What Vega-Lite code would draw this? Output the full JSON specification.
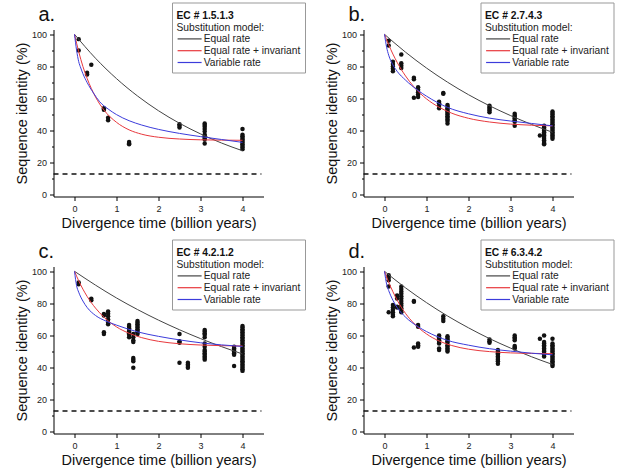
{
  "$schema": "https://vega.github.io/schema/vega-lite/v6.json",
  "padding": {"left": 13.5, "top": 1.5, "right": 0, "bottom": 0},
  "config": {
    "font": "Liberation Sans",
    "view": {"stroke": null},
    "axis": {"grid": false, "domainColor": "#000", "tickColor": "#000", "labelColor": "#222", "labelFontSize": 9, "titleFontSize": 14.5, "titleFontWeight": "normal", "titleColor": "#111"},
    "legend": {"labelFontSize": 10.2, "titleFontSize": 10.3, "labelColor": "#222", "titleColor": "#222"}
  },
  "datasets": {
    "dash": [{"x": -0.5, "y": 13}, {"x": 4.45, "y": 13}],
    "fit": [
      {"p":"a","m":"Equal rate","x":0,"y":100},{"p":"a","m":"Equal rate","x":0.5,"y":85.1},{"p":"a","m":"Equal rate","x":1,"y":72.4},{"p":"a","m":"Equal rate","x":1.5,"y":61.6},{"p":"a","m":"Equal rate","x":2,"y":52.4},{"p":"a","m":"Equal rate","x":2.5,"y":44.6},{"p":"a","m":"Equal rate","x":3,"y":38},{"p":"a","m":"Equal rate","x":3.5,"y":32.3},{"p":"a","m":"Equal rate","x":4,"y":27.5},
      {"p":"a","m":"Equal rate + invariant","x":0,"y":100},{"p":"a","m":"Equal rate + invariant","x":0.1,"y":89.2},{"p":"a","m":"Equal rate + invariant","x":0.2,"y":80},{"p":"a","m":"Equal rate + invariant","x":0.3,"y":72.6},{"p":"a","m":"Equal rate + invariant","x":0.5,"y":61},{"p":"a","m":"Equal rate + invariant","x":0.7,"y":52.9},{"p":"a","m":"Equal rate + invariant","x":1,"y":45.2},{"p":"a","m":"Equal rate + invariant","x":1.3,"y":40.5},{"p":"a","m":"Equal rate + invariant","x":1.6,"y":37.8},{"p":"a","m":"Equal rate + invariant","x":2,"y":35.9},{"p":"a","m":"Equal rate + invariant","x":2.5,"y":34.8},{"p":"a","m":"Equal rate + invariant","x":3,"y":34.3},{"p":"a","m":"Equal rate + invariant","x":3.5,"y":34.1},{"p":"a","m":"Equal rate + invariant","x":4,"y":34},
      {"p":"a","m":"Variable rate","x":0,"y":100},{"p":"a","m":"Variable rate","x":0.05,"y":90},{"p":"a","m":"Variable rate","x":0.1,"y":83},{"p":"a","m":"Variable rate","x":0.15,"y":79},{"p":"a","m":"Variable rate","x":0.2,"y":75.5},{"p":"a","m":"Variable rate","x":0.3,"y":70},{"p":"a","m":"Variable rate","x":0.45,"y":63.5},{"p":"a","m":"Variable rate","x":0.6,"y":58},{"p":"a","m":"Variable rate","x":0.8,"y":53.5},{"p":"a","m":"Variable rate","x":1,"y":50},{"p":"a","m":"Variable rate","x":1.3,"y":46.2},{"p":"a","m":"Variable rate","x":1.6,"y":43.5},{"p":"a","m":"Variable rate","x":2,"y":40.8},{"p":"a","m":"Variable rate","x":2.5,"y":38.3},{"p":"a","m":"Variable rate","x":3,"y":36.3},{"p":"a","m":"Variable rate","x":3.5,"y":34.5},{"p":"a","m":"Variable rate","x":4,"y":32.7},

      {"p":"b","m":"Equal rate","x":0,"y":100},{"p":"b","m":"Equal rate","x":0.5,"y":88.9},{"p":"b","m":"Equal rate","x":1,"y":79},{"p":"b","m":"Equal rate","x":1.5,"y":70.2},{"p":"b","m":"Equal rate","x":2,"y":62.4},{"p":"b","m":"Equal rate","x":2.5,"y":55.5},{"p":"b","m":"Equal rate","x":3,"y":49.4},{"p":"b","m":"Equal rate","x":3.5,"y":43.9},{"p":"b","m":"Equal rate","x":4,"y":39},
      {"p":"b","m":"Equal rate + invariant","x":0,"y":100},{"p":"b","m":"Equal rate + invariant","x":0.1,"y":93.5},{"p":"b","m":"Equal rate + invariant","x":0.2,"y":87.7},{"p":"b","m":"Equal rate + invariant","x":0.3,"y":82.6},{"p":"b","m":"Equal rate + invariant","x":0.5,"y":74.1},{"p":"b","m":"Equal rate + invariant","x":0.7,"y":67.3},{"p":"b","m":"Equal rate + invariant","x":1,"y":59.8},{"p":"b","m":"Equal rate + invariant","x":1.3,"y":54.6},{"p":"b","m":"Equal rate + invariant","x":1.6,"y":50.9},{"p":"b","m":"Equal rate + invariant","x":2,"y":47.7},{"p":"b","m":"Equal rate + invariant","x":2.5,"y":45.4},{"p":"b","m":"Equal rate + invariant","x":3,"y":44.1},{"p":"b","m":"Equal rate + invariant","x":3.5,"y":43.4},{"p":"b","m":"Equal rate + invariant","x":4,"y":43},
      {"p":"b","m":"Variable rate","x":0,"y":100},{"p":"b","m":"Variable rate","x":0.05,"y":92},{"p":"b","m":"Variable rate","x":0.1,"y":87},{"p":"b","m":"Variable rate","x":0.2,"y":81},{"p":"b","m":"Variable rate","x":0.3,"y":77},{"p":"b","m":"Variable rate","x":0.5,"y":71.5},{"p":"b","m":"Variable rate","x":0.8,"y":65},{"p":"b","m":"Variable rate","x":1,"y":61.5},{"p":"b","m":"Variable rate","x":1.5,"y":54.5},{"p":"b","m":"Variable rate","x":2,"y":50.5},{"p":"b","m":"Variable rate","x":2.5,"y":47.8},{"p":"b","m":"Variable rate","x":3,"y":46},{"p":"b","m":"Variable rate","x":3.5,"y":44.5},{"p":"b","m":"Variable rate","x":4,"y":43},

      {"p":"c","m":"Equal rate","x":0,"y":100},{"p":"c","m":"Equal rate","x":0.5,"y":91.4},{"p":"c","m":"Equal rate","x":1,"y":83.4},{"p":"c","m":"Equal rate","x":1.5,"y":76.2},{"p":"c","m":"Equal rate","x":2,"y":69.6},{"p":"c","m":"Equal rate","x":2.5,"y":63.6},{"p":"c","m":"Equal rate","x":3,"y":58.1},{"p":"c","m":"Equal rate","x":3.5,"y":53.1},{"p":"c","m":"Equal rate","x":4,"y":48.5},
      {"p":"c","m":"Equal rate + invariant","x":0,"y":100},{"p":"c","m":"Equal rate + invariant","x":0.1,"y":94.1},{"p":"c","m":"Equal rate + invariant","x":0.2,"y":88.9},{"p":"c","m":"Equal rate + invariant","x":0.3,"y":84.4},{"p":"c","m":"Equal rate + invariant","x":0.5,"y":77.1},{"p":"c","m":"Equal rate + invariant","x":0.7,"y":71.5},{"p":"c","m":"Equal rate + invariant","x":1,"y":65.4},{"p":"c","m":"Equal rate + invariant","x":1.3,"y":61.4},{"p":"c","m":"Equal rate + invariant","x":1.6,"y":58.7},{"p":"c","m":"Equal rate + invariant","x":2,"y":56.4},{"p":"c","m":"Equal rate + invariant","x":2.5,"y":54.9},{"p":"c","m":"Equal rate + invariant","x":3,"y":54.1},{"p":"c","m":"Equal rate + invariant","x":3.5,"y":53.7},{"p":"c","m":"Equal rate + invariant","x":4,"y":53.5},
      {"p":"c","m":"Variable rate","x":0,"y":100},{"p":"c","m":"Variable rate","x":0.05,"y":91},{"p":"c","m":"Variable rate","x":0.1,"y":87},{"p":"c","m":"Variable rate","x":0.2,"y":81.5},{"p":"c","m":"Variable rate","x":0.3,"y":77.5},{"p":"c","m":"Variable rate","x":0.5,"y":72.5},{"p":"c","m":"Variable rate","x":0.75,"y":69},{"p":"c","m":"Variable rate","x":1,"y":66.5},{"p":"c","m":"Variable rate","x":1.5,"y":62.3},{"p":"c","m":"Variable rate","x":2,"y":59.5},{"p":"c","m":"Variable rate","x":2.5,"y":57.3},{"p":"c","m":"Variable rate","x":3,"y":55.5},{"p":"c","m":"Variable rate","x":3.5,"y":54.2},{"p":"c","m":"Variable rate","x":4,"y":53.2},

      {"p":"d","m":"Equal rate","x":0,"y":100},{"p":"d","m":"Equal rate","x":0.5,"y":89.7},{"p":"d","m":"Equal rate","x":1,"y":80.5},{"p":"d","m":"Equal rate","x":1.5,"y":72.2},{"p":"d","m":"Equal rate","x":2,"y":64.8},{"p":"d","m":"Equal rate","x":2.5,"y":58.1},{"p":"d","m":"Equal rate","x":3,"y":52.2},{"p":"d","m":"Equal rate","x":3.5,"y":46.8},{"p":"d","m":"Equal rate","x":4,"y":42},
      {"p":"d","m":"Equal rate + invariant","x":0,"y":100},{"p":"d","m":"Equal rate + invariant","x":0.1,"y":93.2},{"p":"d","m":"Equal rate + invariant","x":0.2,"y":87.3},{"p":"d","m":"Equal rate + invariant","x":0.3,"y":82.1},{"p":"d","m":"Equal rate + invariant","x":0.5,"y":73.8},{"p":"d","m":"Equal rate + invariant","x":0.7,"y":67.6},{"p":"d","m":"Equal rate + invariant","x":1,"y":61},{"p":"d","m":"Equal rate + invariant","x":1.3,"y":56.6},{"p":"d","m":"Equal rate + invariant","x":1.6,"y":53.8},{"p":"d","m":"Equal rate + invariant","x":2,"y":51.5},{"p":"d","m":"Equal rate + invariant","x":2.5,"y":50},{"p":"d","m":"Equal rate + invariant","x":3,"y":49.2},{"p":"d","m":"Equal rate + invariant","x":3.5,"y":48.9},{"p":"d","m":"Equal rate + invariant","x":4,"y":48.7},
      {"p":"d","m":"Variable rate","x":0,"y":100},{"p":"d","m":"Variable rate","x":0.05,"y":92},{"p":"d","m":"Variable rate","x":0.1,"y":88},{"p":"d","m":"Variable rate","x":0.2,"y":82},{"p":"d","m":"Variable rate","x":0.3,"y":77.5},{"p":"d","m":"Variable rate","x":0.5,"y":71.5},{"p":"d","m":"Variable rate","x":0.8,"y":65.5},{"p":"d","m":"Variable rate","x":1,"y":62.5},{"p":"d","m":"Variable rate","x":1.5,"y":57},{"p":"d","m":"Variable rate","x":2,"y":54},{"p":"d","m":"Variable rate","x":2.5,"y":51.8},{"p":"d","m":"Variable rate","x":3,"y":50.3},{"p":"d","m":"Variable rate","x":3.5,"y":49},{"p":"d","m":"Variable rate","x":4,"y":48}
    ],
    "pts": [
      {"p":"a","x":0.1,"y":97},{"p":"a","x":0.1,"y":90},{"p":"a","x":0.3,"y":76},{"p":"a","x":0.3,"y":75},{"p":"a","x":0.4,"y":81},{"p":"a","x":0.7,"y":54},{"p":"a","x":0.7,"y":53},{"p":"a","x":0.8,"y":48},{"p":"a","x":0.8,"y":46.5},{"p":"a","x":1.3,"y":33},{"p":"a","x":1.3,"y":32},{"p":"a","x":1.3,"y":31.5},{"p":"a","x":2.5,"y":44},{"p":"a","x":2.5,"y":43},{"p":"a","x":2.5,"y":42},
      {"p":"a","x":3.1,"y":44.5},{"p":"a","x":3.1,"y":43.5},{"p":"a","x":3.1,"y":42.5},{"p":"a","x":3.1,"y":41},{"p":"a","x":3.1,"y":39.5},{"p":"a","x":3.1,"y":37.5},{"p":"a","x":3.1,"y":36.5},{"p":"a","x":3.1,"y":35.5},{"p":"a","x":3.1,"y":34.5},{"p":"a","x":3.1,"y":32},
      {"p":"a","x":4,"y":41},{"p":"a","x":4,"y":37.5},{"p":"a","x":4,"y":36.5},{"p":"a","x":4,"y":35.5},{"p":"a","x":4,"y":34.5},{"p":"a","x":4,"y":33.5},{"p":"a","x":4,"y":32.5},{"p":"a","x":4,"y":31.5},{"p":"a","x":4,"y":30.5},{"p":"a","x":4,"y":29.5},{"p":"a","x":4,"y":28.5},

      {"p":"b","x":0.1,"y":96},{"p":"b","x":0.1,"y":93},{"p":"b","x":0.2,"y":83},{"p":"b","x":0.2,"y":81.5},{"p":"b","x":0.2,"y":80},{"p":"b","x":0.2,"y":78.5},{"p":"b","x":0.2,"y":77},{"p":"b","x":0.4,"y":87.5},{"p":"b","x":0.4,"y":82},{"p":"b","x":0.4,"y":80.5},{"p":"b","x":0.4,"y":79},{"p":"b","x":0.7,"y":73},{"p":"b","x":0.7,"y":72},{"p":"b","x":0.7,"y":60.5},{"p":"b","x":0.8,"y":67},{"p":"b","x":0.8,"y":65.5},{"p":"b","x":0.8,"y":64},{"p":"b","x":0.8,"y":62.5},{"p":"b","x":0.8,"y":61},{"p":"b","x":1.3,"y":58},{"p":"b","x":1.3,"y":57},{"p":"b","x":1.3,"y":55.5},{"p":"b","x":1.3,"y":54},{"p":"b","x":1.4,"y":63.5},{"p":"b","x":1.4,"y":63},
      {"p":"b","x":1.5,"y":56},{"p":"b","x":1.5,"y":55},{"p":"b","x":1.5,"y":54},{"p":"b","x":1.5,"y":53},{"p":"b","x":1.5,"y":52},{"p":"b","x":1.5,"y":51},{"p":"b","x":1.5,"y":50},{"p":"b","x":1.5,"y":49},{"p":"b","x":1.5,"y":48},{"p":"b","x":1.5,"y":47},{"p":"b","x":1.5,"y":46},{"p":"b","x":1.5,"y":44.5},
      {"p":"b","x":2.5,"y":55.5},{"p":"b","x":2.5,"y":54.5},{"p":"b","x":2.5,"y":53.5},{"p":"b","x":2.5,"y":52.5},{"p":"b","x":2.5,"y":51.5},
      {"p":"b","x":3.1,"y":50.5},{"p":"b","x":3.1,"y":49.5},{"p":"b","x":3.1,"y":48.5},{"p":"b","x":3.1,"y":47.5},{"p":"b","x":3.1,"y":46.5},{"p":"b","x":3.1,"y":45.5},{"p":"b","x":3.1,"y":43},
      {"p":"b","x":3.7,"y":37},
      {"p":"b","x":3.8,"y":43},{"p":"b","x":3.8,"y":42},{"p":"b","x":3.8,"y":41},{"p":"b","x":3.8,"y":40},{"p":"b","x":3.8,"y":39},{"p":"b","x":3.8,"y":38},{"p":"b","x":3.8,"y":37},{"p":"b","x":3.8,"y":36},{"p":"b","x":3.8,"y":35},{"p":"b","x":3.8,"y":34},{"p":"b","x":3.8,"y":33},{"p":"b","x":3.8,"y":32},{"p":"b","x":3.8,"y":31.5},
      {"p":"b","x":4,"y":52},{"p":"b","x":4,"y":51},{"p":"b","x":4,"y":50},{"p":"b","x":4,"y":49},{"p":"b","x":4,"y":48},{"p":"b","x":4,"y":47},{"p":"b","x":4,"y":46},{"p":"b","x":4,"y":45},{"p":"b","x":4,"y":44},{"p":"b","x":4,"y":43},{"p":"b","x":4,"y":42},{"p":"b","x":4,"y":41},{"p":"b","x":4,"y":40},{"p":"b","x":4,"y":39},{"p":"b","x":4,"y":38},{"p":"b","x":4,"y":37},{"p":"b","x":4,"y":36},{"p":"b","x":4,"y":35},

      {"p":"c","x":0.1,"y":93},{"p":"c","x":0.1,"y":92},{"p":"c","x":0.4,"y":83},{"p":"c","x":0.4,"y":82},{"p":"c","x":0.7,"y":73.5},{"p":"c","x":0.7,"y":72.5},{"p":"c","x":0.7,"y":62},{"p":"c","x":0.7,"y":61},{"p":"c","x":0.8,"y":75},{"p":"c","x":0.8,"y":73.5},{"p":"c","x":0.8,"y":72},{"p":"c","x":0.8,"y":70},{"p":"c","x":0.8,"y":68},{"p":"c","x":0.8,"y":67},
      {"p":"c","x":1.3,"y":66.5},{"p":"c","x":1.3,"y":65.5},{"p":"c","x":1.3,"y":64.5},{"p":"c","x":1.3,"y":63.5},{"p":"c","x":1.3,"y":62.5},{"p":"c","x":1.3,"y":61.5},{"p":"c","x":1.3,"y":60.5},{"p":"c","x":1.3,"y":59},
      {"p":"c","x":1.4,"y":61},{"p":"c","x":1.4,"y":59},{"p":"c","x":1.4,"y":57},{"p":"c","x":1.4,"y":56},{"p":"c","x":1.4,"y":46},{"p":"c","x":1.4,"y":45},{"p":"c","x":1.4,"y":44},{"p":"c","x":1.4,"y":40},
      {"p":"c","x":1.5,"y":69},{"p":"c","x":1.5,"y":68},{"p":"c","x":1.5,"y":67},{"p":"c","x":1.5,"y":66},{"p":"c","x":1.5,"y":65},{"p":"c","x":1.5,"y":64},{"p":"c","x":1.5,"y":63},{"p":"c","x":1.5,"y":62},{"p":"c","x":1.5,"y":61},
      {"p":"c","x":2.5,"y":61},{"p":"c","x":2.5,"y":56.5},{"p":"c","x":2.5,"y":55.5},{"p":"c","x":2.5,"y":43},
      {"p":"c","x":2.7,"y":43},{"p":"c","x":2.7,"y":42},{"p":"c","x":2.7,"y":41},{"p":"c","x":2.7,"y":40},
      {"p":"c","x":3.1,"y":63.5},{"p":"c","x":3.1,"y":62.5},{"p":"c","x":3.1,"y":61.5},{"p":"c","x":3.1,"y":60.5},{"p":"c","x":3.1,"y":59},{"p":"c","x":3.1,"y":55},{"p":"c","x":3.1,"y":53},{"p":"c","x":3.1,"y":51},{"p":"c","x":3.1,"y":50},{"p":"c","x":3.1,"y":49},{"p":"c","x":3.1,"y":48},{"p":"c","x":3.1,"y":47},{"p":"c","x":3.1,"y":46},{"p":"c","x":3.1,"y":45},
      {"p":"c","x":3.8,"y":53},{"p":"c","x":3.8,"y":52},{"p":"c","x":3.8,"y":51},{"p":"c","x":3.8,"y":50},{"p":"c","x":3.8,"y":49},{"p":"c","x":3.8,"y":48},{"p":"c","x":3.8,"y":41},
      {"p":"c","x":4,"y":66},{"p":"c","x":4,"y":65},{"p":"c","x":4,"y":64},{"p":"c","x":4,"y":63},{"p":"c","x":4,"y":62},{"p":"c","x":4,"y":61},{"p":"c","x":4,"y":60},{"p":"c","x":4,"y":59},{"p":"c","x":4,"y":58},{"p":"c","x":4,"y":57},{"p":"c","x":4,"y":56},{"p":"c","x":4,"y":55},{"p":"c","x":4,"y":54},{"p":"c","x":4,"y":53},{"p":"c","x":4,"y":52},{"p":"c","x":4,"y":51},{"p":"c","x":4,"y":50},{"p":"c","x":4,"y":49},{"p":"c","x":4,"y":48},{"p":"c","x":4,"y":47},{"p":"c","x":4,"y":46},{"p":"c","x":4,"y":45},{"p":"c","x":4,"y":44},{"p":"c","x":4,"y":43},{"p":"c","x":4,"y":42},{"p":"c","x":4,"y":41},{"p":"c","x":4,"y":40},{"p":"c","x":4,"y":39},{"p":"c","x":4,"y":38},

      {"p":"d","x":0.1,"y":97.5},{"p":"d","x":0.1,"y":96},{"p":"d","x":0.1,"y":94.5},{"p":"d","x":0.1,"y":90.5},{"p":"d","x":0.1,"y":74.5},
      {"p":"d","x":0.2,"y":79},{"p":"d","x":0.2,"y":77.5},{"p":"d","x":0.2,"y":76},{"p":"d","x":0.2,"y":74.5},{"p":"d","x":0.2,"y":73},{"p":"d","x":0.2,"y":72},
      {"p":"d","x":0.3,"y":85},{"p":"d","x":0.3,"y":84},{"p":"d","x":0.3,"y":83},{"p":"d","x":0.3,"y":78},{"p":"d","x":0.3,"y":77.5},
      {"p":"d","x":0.4,"y":90.5},{"p":"d","x":0.4,"y":89},{"p":"d","x":0.4,"y":87.5},{"p":"d","x":0.4,"y":86},{"p":"d","x":0.4,"y":84.5},{"p":"d","x":0.4,"y":83},{"p":"d","x":0.4,"y":81.5},{"p":"d","x":0.4,"y":80},{"p":"d","x":0.4,"y":78.5},{"p":"d","x":0.4,"y":77},{"p":"d","x":0.4,"y":75.5},{"p":"d","x":0.4,"y":74.5},
      {"p":"d","x":0.7,"y":81.5},{"p":"d","x":0.7,"y":81},{"p":"d","x":0.7,"y":52.5},
      {"p":"d","x":0.8,"y":66.5},{"p":"d","x":0.8,"y":65.5},{"p":"d","x":0.8,"y":55},{"p":"d","x":0.8,"y":54},{"p":"d","x":0.8,"y":53},
      {"p":"d","x":1.3,"y":60},{"p":"d","x":1.3,"y":59},{"p":"d","x":1.3,"y":58},{"p":"d","x":1.3,"y":57},{"p":"d","x":1.3,"y":56},{"p":"d","x":1.3,"y":55},{"p":"d","x":1.3,"y":52},{"p":"d","x":1.3,"y":51},
      {"p":"d","x":1.4,"y":72},{"p":"d","x":1.4,"y":70.5},{"p":"d","x":1.4,"y":69},
      {"p":"d","x":1.5,"y":59.5},{"p":"d","x":1.5,"y":58.5},{"p":"d","x":1.5,"y":57.5},{"p":"d","x":1.5,"y":56.5},{"p":"d","x":1.5,"y":55.5},{"p":"d","x":1.5,"y":54},{"p":"d","x":1.5,"y":53},{"p":"d","x":1.5,"y":52},{"p":"d","x":1.5,"y":51},{"p":"d","x":1.5,"y":50},
      {"p":"d","x":2.5,"y":57.5},{"p":"d","x":2.5,"y":56.5},{"p":"d","x":2.5,"y":55.5},
      {"p":"d","x":2.7,"y":51},{"p":"d","x":2.7,"y":50},{"p":"d","x":2.7,"y":49},{"p":"d","x":2.7,"y":48},{"p":"d","x":2.7,"y":47},{"p":"d","x":2.7,"y":46},{"p":"d","x":2.7,"y":45},{"p":"d","x":2.7,"y":44},{"p":"d","x":2.7,"y":42.5},
      {"p":"d","x":3.1,"y":60},{"p":"d","x":3.1,"y":59},{"p":"d","x":3.1,"y":58},{"p":"d","x":3.1,"y":57},{"p":"d","x":3.1,"y":53.5},{"p":"d","x":3.1,"y":52.5},{"p":"d","x":3.1,"y":52},
      {"p":"d","x":3.7,"y":58},
      {"p":"d","x":3.8,"y":60},{"p":"d","x":3.8,"y":56},{"p":"d","x":3.8,"y":55},{"p":"d","x":3.8,"y":54},{"p":"d","x":3.8,"y":53},{"p":"d","x":3.8,"y":52},{"p":"d","x":3.8,"y":51},{"p":"d","x":3.8,"y":50},{"p":"d","x":3.8,"y":49},{"p":"d","x":3.8,"y":48},{"p":"d","x":3.8,"y":47},
      {"p":"d","x":4,"y":58},{"p":"d","x":4,"y":55},{"p":"d","x":4,"y":54},{"p":"d","x":4,"y":53},{"p":"d","x":4,"y":52},{"p":"d","x":4,"y":51},{"p":"d","x":4,"y":50},{"p":"d","x":4,"y":49},{"p":"d","x":4,"y":48},{"p":"d","x":4,"y":47},{"p":"d","x":4,"y":46},{"p":"d","x":4,"y":45},{"p":"d","x":4,"y":44},{"p":"d","x":4,"y":43},{"p":"d","x":4,"y":42},{"p":"d","x":4,"y":41}
    ]
  },
  "columns": 2,
  "spacing": {"row": 70, "column": 100},
  "bounds": "flush",
  "resolve": {"legend": {"color": "independent", "shape": "independent"}, "scale": {"shape": "independent"}},
  "concat": [
    {
      "width": 210, "height": 167,
      "title": {"text": "a.", "anchor": "start", "frame": "group", "fontSize": 20, "fontWeight": "normal", "color": "#111", "dx": -15, "baseline": "alphabetic", "offset": -39},
      "encoding": {
        "x": {"field": "x", "type": "quantitative", "scale": {"domain": [-0.5, 4.5], "nice": false, "zero": false}, "axis": {"title": "Divergence time (billion years)", "values": [0, 0.5, 1, 1.5, 2, 2.5, 3, 3.5, 4], "format": "d", "labelExpr": "datum.value % 1 ? '' : datum.label", "tickSize": {"condition": {"test": "datum.value % 1 !== 0", "value": 2}, "value": 4}, "labelPadding": 4, "titlePadding": 3}},
        "y": {"field": "y", "type": "quantitative", "scale": {"domain": [-1, 103], "nice": false, "zero": false}, "axis": {"title": "Sequence identity (%)", "values": [0, 10, 20, 30, 40, 50, 60, 70, 80, 90, 100], "labelExpr": "datum.value % 20 ? '' : datum.label", "tickSize": {"condition": {"test": "datum.value % 20 !== 0", "value": 2}, "value": 4}, "labelPadding": 3, "titlePadding": 2}}
      },
      "layer": [
        {"data": {"name": "dash"}, "mark": {"type": "line", "strokeDash": [5, 4], "strokeWidth": 1.4, "color": "#111"}},
        {"data": {"name": "pts"}, "transform": [{"filter": "datum.p == 'a'"}], "mark": {"type": "point", "filled": true, "size": 20, "color": "#111", "opacity": 1},
          "encoding": {"shape": {"datum": "pts", "scale": {"range": ["circle"]}, "legend": {"orient": "none", "legendX": 118.5, "legendY": -24.5, "title": "EC # 1.5.1.3", "titleFontWeight": "bold", "titleColor": "#111", "titleBaseline": "line-top", "titleLineHeight": 12.5, "labelOpacity": 0, "symbolOpacity": 0, "padding": 4.5, "zindex": 2}}}},
        {"data": {"name": "fit"}, "transform": [{"filter": "datum.p == 'a'"}], "mark": {"type": "line", "strokeWidth": 1, "interpolate": "monotone"},
          "encoding": {"color": {"field": "m", "type": "nominal", "scale": {"domain": ["Equal rate", "Equal rate + invariant", "Variable rate"], "range": ["#444444", "#e8383d", "#3c3cdb"]}, "legend": {"orient": "none", "legendX": 118.5, "legendY": -27, "title": [" ", "Substitution model:"], "titleFontWeight": "normal", "titleBaseline": "line-top", "titleLineHeight": 14, "titlePadding": 2.5, "symbolType": "M-1,0H5", "symbolSize": 64, "symbolStrokeWidth": 1.2, "labelOffset": 17, "rowPadding": 0.8, "padding": 4.5, "strokeColor": "#999", "fillColor": "white", "zindex": 1}}}}
      ]
    },
    {
      "width": 210, "height": 167,
      "title": {"text": "b.", "anchor": "start", "frame": "group", "fontSize": 20, "fontWeight": "normal", "color": "#111", "dx": -15, "baseline": "alphabetic", "offset": -39},
      "encoding": {
        "x": {"field": "x", "type": "quantitative", "scale": {"domain": [-0.5, 4.5], "nice": false, "zero": false}, "axis": {"title": "Divergence time (billion years)", "values": [0, 0.5, 1, 1.5, 2, 2.5, 3, 3.5, 4], "format": "d", "labelExpr": "datum.value % 1 ? '' : datum.label", "tickSize": {"condition": {"test": "datum.value % 1 !== 0", "value": 2}, "value": 4}, "labelPadding": 4, "titlePadding": 3}},
        "y": {"field": "y", "type": "quantitative", "scale": {"domain": [-1, 103], "nice": false, "zero": false}, "axis": {"title": "Sequence identity (%)", "values": [0, 10, 20, 30, 40, 50, 60, 70, 80, 90, 100], "labelExpr": "datum.value % 20 ? '' : datum.label", "tickSize": {"condition": {"test": "datum.value % 20 !== 0", "value": 2}, "value": 4}, "labelPadding": 3, "titlePadding": 2}}
      },
      "layer": [
        {"data": {"name": "dash"}, "mark": {"type": "line", "strokeDash": [5, 4], "strokeWidth": 1.4, "color": "#111"}},
        {"data": {"name": "pts"}, "transform": [{"filter": "datum.p == 'b'"}], "mark": {"type": "point", "filled": true, "size": 20, "color": "#111", "opacity": 1},
          "encoding": {"shape": {"datum": "pts", "scale": {"range": ["circle"]}, "legend": {"orient": "none", "legendX": 117, "legendY": -24.5, "title": "EC # 2.7.4.3", "titleFontWeight": "bold", "titleColor": "#111", "titleBaseline": "line-top", "titleLineHeight": 12.5, "labelOpacity": 0, "symbolOpacity": 0, "padding": 4.5, "zindex": 2}}}},
        {"data": {"name": "fit"}, "transform": [{"filter": "datum.p == 'b'"}], "mark": {"type": "line", "strokeWidth": 1, "interpolate": "monotone"},
          "encoding": {"color": {"field": "m", "type": "nominal", "scale": {"domain": ["Equal rate", "Equal rate + invariant", "Variable rate"], "range": ["#444444", "#e8383d", "#3c3cdb"]}, "legend": {"orient": "none", "legendX": 117, "legendY": -27, "title": [" ", "Substitution model:"], "titleFontWeight": "normal", "titleBaseline": "line-top", "titleLineHeight": 14, "titlePadding": 2.5, "symbolType": "M-1,0H5", "symbolSize": 64, "symbolStrokeWidth": 1.2, "labelOffset": 17, "rowPadding": 0.8, "padding": 4.5, "strokeColor": "#999", "fillColor": "white", "zindex": 1}}}}
      ]
    },
    {
      "width": 210, "height": 167,
      "title": {"text": "c.", "anchor": "start", "frame": "group", "fontSize": 20, "fontWeight": "normal", "color": "#111", "dx": -15, "baseline": "alphabetic", "offset": -39},
      "encoding": {
        "x": {"field": "x", "type": "quantitative", "scale": {"domain": [-0.5, 4.5], "nice": false, "zero": false}, "axis": {"title": "Divergence time (billion years)", "values": [0, 0.5, 1, 1.5, 2, 2.5, 3, 3.5, 4], "format": "d", "labelExpr": "datum.value % 1 ? '' : datum.label", "tickSize": {"condition": {"test": "datum.value % 1 !== 0", "value": 2}, "value": 4}, "labelPadding": 4, "titlePadding": 3}},
        "y": {"field": "y", "type": "quantitative", "scale": {"domain": [-1, 103], "nice": false, "zero": false}, "axis": {"title": "Sequence identity (%)", "values": [0, 10, 20, 30, 40, 50, 60, 70, 80, 90, 100], "labelExpr": "datum.value % 20 ? '' : datum.label", "tickSize": {"condition": {"test": "datum.value % 20 !== 0", "value": 2}, "value": 4}, "labelPadding": 3, "titlePadding": 2}}
      },
      "layer": [
        {"data": {"name": "dash"}, "mark": {"type": "line", "strokeDash": [5, 4], "strokeWidth": 1.4, "color": "#111"}},
        {"data": {"name": "pts"}, "transform": [{"filter": "datum.p == 'c'"}], "mark": {"type": "point", "filled": true, "size": 20, "color": "#111", "opacity": 1},
          "encoding": {"shape": {"datum": "pts", "scale": {"range": ["circle"]}, "legend": {"orient": "none", "legendX": 118.5, "legendY": -24.5, "title": "EC # 4.2.1.2", "titleFontWeight": "bold", "titleColor": "#111", "titleBaseline": "line-top", "titleLineHeight": 12.5, "labelOpacity": 0, "symbolOpacity": 0, "padding": 4.5, "zindex": 2}}}},
        {"data": {"name": "fit"}, "transform": [{"filter": "datum.p == 'c'"}], "mark": {"type": "line", "strokeWidth": 1, "interpolate": "monotone"},
          "encoding": {"color": {"field": "m", "type": "nominal", "scale": {"domain": ["Equal rate", "Equal rate + invariant", "Variable rate"], "range": ["#444444", "#e8383d", "#3c3cdb"]}, "legend": {"orient": "none", "legendX": 118.5, "legendY": -27, "title": [" ", "Substitution model:"], "titleFontWeight": "normal", "titleBaseline": "line-top", "titleLineHeight": 14, "titlePadding": 2.5, "symbolType": "M-1,0H5", "symbolSize": 64, "symbolStrokeWidth": 1.2, "labelOffset": 17, "rowPadding": 0.8, "padding": 4.5, "strokeColor": "#999", "fillColor": "white", "zindex": 1}}}}
      ]
    },
    {
      "width": 210, "height": 167,
      "title": {"text": "d.", "anchor": "start", "frame": "group", "fontSize": 20, "fontWeight": "normal", "color": "#111", "dx": -15, "baseline": "alphabetic", "offset": -39},
      "encoding": {
        "x": {"field": "x", "type": "quantitative", "scale": {"domain": [-0.5, 4.5], "nice": false, "zero": false}, "axis": {"title": "Divergence time (billion years)", "values": [0, 0.5, 1, 1.5, 2, 2.5, 3, 3.5, 4], "format": "d", "labelExpr": "datum.value % 1 ? '' : datum.label", "tickSize": {"condition": {"test": "datum.value % 1 !== 0", "value": 2}, "value": 4}, "labelPadding": 4, "titlePadding": 3}},
        "y": {"field": "y", "type": "quantitative", "scale": {"domain": [-1, 103], "nice": false, "zero": false}, "axis": {"title": "Sequence identity (%)", "values": [0, 10, 20, 30, 40, 50, 60, 70, 80, 90, 100], "labelExpr": "datum.value % 20 ? '' : datum.label", "tickSize": {"condition": {"test": "datum.value % 20 !== 0", "value": 2}, "value": 4}, "labelPadding": 3, "titlePadding": 2}}
      },
      "layer": [
        {"data": {"name": "dash"}, "mark": {"type": "line", "strokeDash": [5, 4], "strokeWidth": 1.4, "color": "#111"}},
        {"data": {"name": "pts"}, "transform": [{"filter": "datum.p == 'd'"}], "mark": {"type": "point", "filled": true, "size": 20, "color": "#111", "opacity": 1},
          "encoding": {"shape": {"datum": "pts", "scale": {"range": ["circle"]}, "legend": {"orient": "none", "legendX": 117, "legendY": -24.5, "title": "EC # 6.3.4.2", "titleFontWeight": "bold", "titleColor": "#111", "titleBaseline": "line-top", "titleLineHeight": 12.5, "labelOpacity": 0, "symbolOpacity": 0, "padding": 4.5, "zindex": 2}}}},
        {"data": {"name": "fit"}, "transform": [{"filter": "datum.p == 'd'"}], "mark": {"type": "line", "strokeWidth": 1, "interpolate": "monotone"},
          "encoding": {"color": {"field": "m", "type": "nominal", "scale": {"domain": ["Equal rate", "Equal rate + invariant", "Variable rate"], "range": ["#444444", "#e8383d", "#3c3cdb"]}, "legend": {"orient": "none", "legendX": 117, "legendY": -27, "title": [" ", "Substitution model:"], "titleFontWeight": "normal", "titleBaseline": "line-top", "titleLineHeight": 14, "titlePadding": 2.5, "symbolType": "M-1,0H5", "symbolSize": 64, "symbolStrokeWidth": 1.2, "labelOffset": 17, "rowPadding": 0.8, "padding": 4.5, "strokeColor": "#999", "fillColor": "white", "zindex": 1}}}}
      ]
    }
  ]
}
